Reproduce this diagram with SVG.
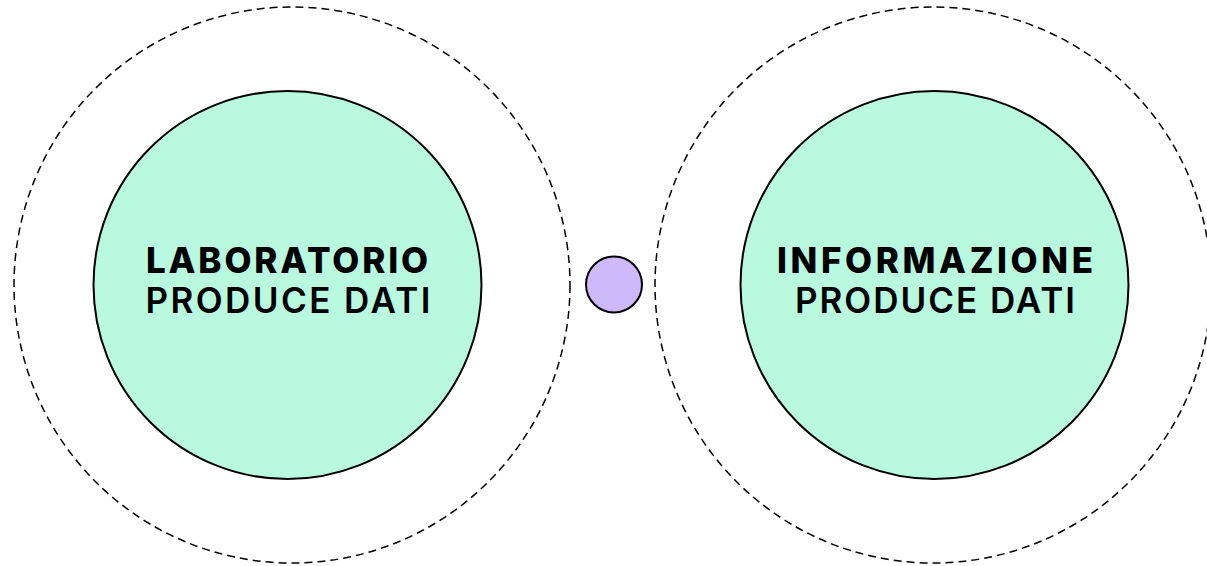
<svg xmlns="http://www.w3.org/2000/svg" width="1207" height="566" viewBox="0 0 1207 566">
<style>
.outer{fill:none;stroke:#000;stroke-width:1.5;stroke-dasharray:8 5}
.inner{fill:#b8f9df;stroke:#000;stroke-width:2}
.dot{fill:#cdb9fb;stroke:#000;stroke-width:2}
.t1{font-family:Inter,"Liberation Sans",sans-serif;font-weight:800;font-size:35px;fill:#000;text-anchor:middle}
.t2{font-family:Inter,"Liberation Sans",sans-serif;font-weight:600;font-size:35px;fill:#000;text-anchor:middle}
</style>
<rect width="1207" height="566" fill="#fff"/>
<g id="outer-left"><circle class="outer" cx="292" cy="285" r="278"/></g>
<g id="outer-right"><circle class="outer" cx="933" cy="285" r="278"/></g>
<g id="laboratorio">
<circle class="inner" cx="287.5" cy="285" r="194"/>
<text class="t1" x="287" y="273" textLength="282" lengthAdjust="spacing">LABORATORIO</text>
<text class="t2" x="288" y="313" textLength="285" lengthAdjust="spacing">PRODUCE DATI</text>
</g>
<g id="informazione">
<circle class="inner" cx="934.5" cy="285" r="194"/>
<text class="t1" x="935" y="273" textLength="316" lengthAdjust="spacing">INFORMAZIONE</text>
<text class="t2" x="935" y="313" textLength="280" lengthAdjust="spacing">PRODUCE DATI</text>
</g>
<g id="center-dot"><circle class="dot" cx="614" cy="284.5" r="28"/></g>
<g id="connectors"></g>
</svg>
